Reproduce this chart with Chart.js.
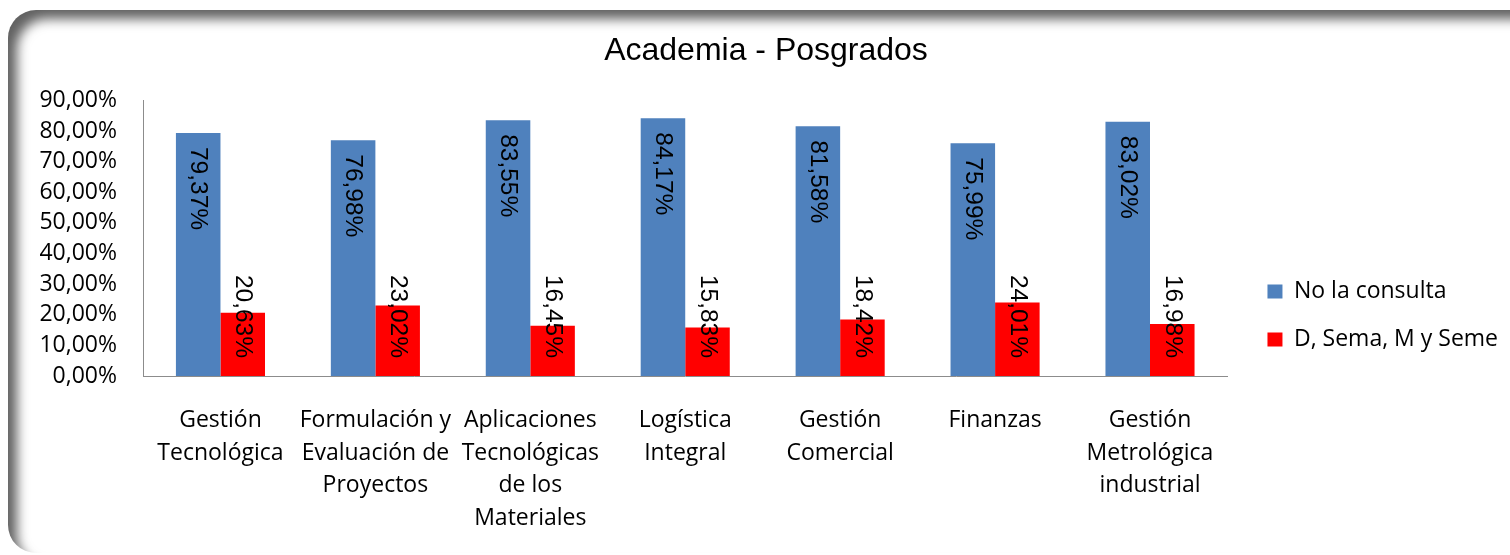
<!DOCTYPE html>
<html><head><meta charset="utf-8">
<script src="https://cdn.jsdelivr.net/npm/chart.js@4.4.1/dist/chart.umd.min.js"></script>
<style>
html,body{margin:0;padding:0;background:#fff;width:1510px;height:555px;overflow:hidden;}
#frame{position:absolute;left:8px;top:10px;width:1540px;height:543px;border-radius:28px;background:#fff;box-shadow:inset 11px 11px 12px -2px rgba(0,0,0,0.62);}
#wrap{position:absolute;left:0;top:0;width:1510px;height:555px;}
</style></head>
<body><div id="frame"></div><div id="wrap"><canvas id="c" width="1510" height="555"></canvas></div>
<script>
const categories = [["Gestión","Tecnológica"],["Formulación y","Evaluación de","Proyectos"],["Aplicaciones","Tecnológicas","de los","Materiales"],["Logística","Integral"],["Gestión","Comercial"],["Finanzas"],["Gestión","Metrológica","industrial"]];
const seriesNames = ["No la consulta","D, Sema, M y Seme"];
const noConsulta = [0.7937,0.7698,0.8355,0.8417,0.8158,0.7599,0.8302];
const dSemaMSeme = [0.2063,0.2302,0.1645,0.1583,0.1842,0.2401,0.1698];
const yTickLabels = ["0,00%","10,00%","20,00%","30,00%","40,00%","50,00%","60,00%","70,00%","80,00%","90,00%"];

function fmt(v){ return (v*100).toFixed(2).replace('.',',')+'%'; }

const labelPlugin = {
  id:'barLabels',
  afterDatasetsDraw(chart){
    const ctx = chart.ctx;
    ctx.save();
    ctx.font = '24.5px "Liberation Sans", Arial, sans-serif';
    ctx.fillStyle = '#000';
    ctx.textBaseline = 'middle';
    chart.data.datasets.forEach((ds,di)=>{
      const meta = chart.getDatasetMeta(di);
      meta.data.forEach((bar,i)=>{
        const txt = fmt(ds.data[i]);
        const w = ctx.measureText(txt).width;
        const h = bar.base - bar.y;
        ctx.save();
        if (h >= w + 40) {
          ctx.translate(bar.x, bar.y + 14); ctx.rotate(Math.PI/2); ctx.textAlign = 'left';
        } else {
          ctx.translate(bar.x, bar.base - 18); ctx.rotate(Math.PI/2); ctx.textAlign = 'right';
        }
        ctx.fillText(txt, 0, 0);
        ctx.restore();
      });
    });
    ctx.restore();
  }
};

new Chart(document.getElementById('c'), {
  type:'bar',
  data:{
    labels:categories,
    datasets:[
      {label:seriesNames[0], data:noConsulta, backgroundColor:'#4F81BD'},
      {label:seriesNames[1], data:dSemaMSeme, backgroundColor:'#FF0000'}
    ]
  },
  options:{
    responsive:false, animation:false, devicePixelRatio:1,
    layout:{padding:{left:24,right:2,top:12,bottom:0}},
    datasets:{bar:{categoryPercentage:0.575,barPercentage:1}},
    plugins:{
      title:{display:true,text:'Academia - Posgrados',color:'#000',
        font:{family:'"Liberation Sans", Arial, sans-serif',size:32,weight:'normal'},
        padding:{top:20,bottom:30}},
      legend:{position:'right',align:'end',fullSize:false,
        labels:{boxWidth:15,boxHeight:14,padding:25,color:'#000',
          font:{family:'"Open Sans", sans-serif',size:23}}},
      tooltip:{enabled:false}
    },
    scales:{
      x:{
        grid:{display:false,drawTicks:false},
        border:{display:true,color:'#8c8c8c'},
        ticks:{color:'#000',font:{family:'"Open Sans", sans-serif',size:23,lineHeight:1.42},padding:28,maxRotation:0,minRotation:0,autoSkip:false},
        afterFit:s=>{s.height=179;}
      },
      y:{
        min:0,max:0.9,
        grid:{display:false,drawTicks:false},
        border:{display:true,color:'#8c8c8c'},
        ticks:{stepSize:0.1,color:'#000',font:{family:'"Open Sans", sans-serif',size:23},padding:26,
          callback:(v,i)=>yTickLabels[i]},
        afterFit:s=>{s.width=119;}
      },
      gap:{
        position:'right', display:false, min:0, max:1,
        afterFit:s=>{s.width=15;}
      }
    }
  },
  plugins:[labelPlugin]
});
</script>
</body></html>
